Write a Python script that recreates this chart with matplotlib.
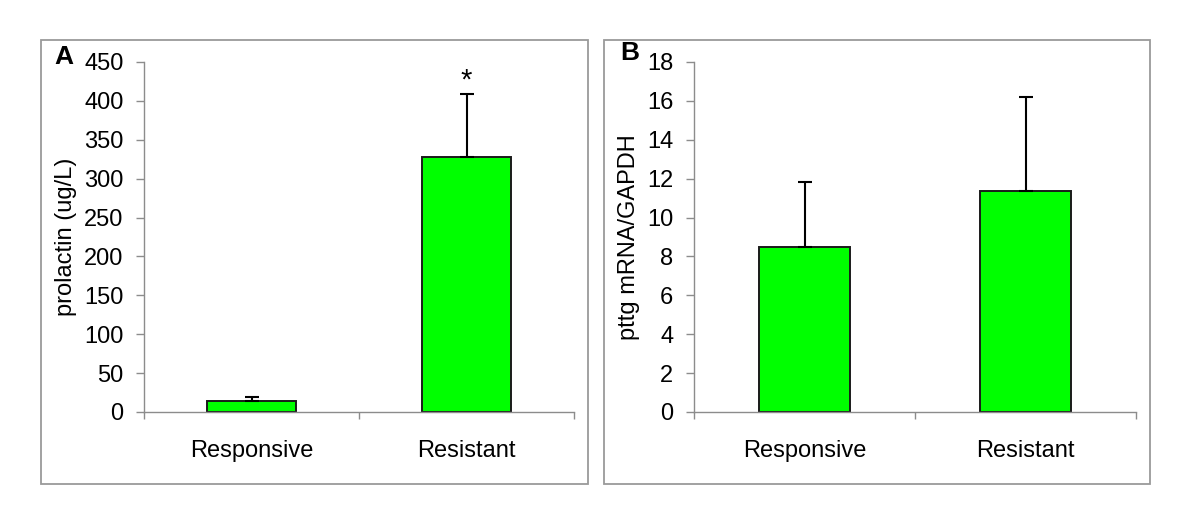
import matplotlib
matplotlib.use("Agg")
import matplotlib.pyplot as plt
from matplotlib.patches import Rectangle

plt.rcParams['font.family'] = ['Liberation Sans', 'DejaVu Sans']

categories = ["Responsive", "Resistant"]
prolactin = [14, 328]
prolactin_err = [5, 81]
pttg = [8.48, 11.37]
pttg_err = [3.35, 4.82]

W, H = 1200, 521
fig = plt.figure(figsize=(12, 5.21), dpi=100)

GRAY = '#8c8c8c'
GREEN = '#00ff00'


def px(x0, y0, x1, y1):
    return [x0 / W, 1 - y1 / H, (x1 - x0) / W, (y1 - y0) / H]


# panel frames
for (x0, y0, x1, y1) in [(41, 40, 588, 484), (604, 40, 1150, 484)]:
    fig.patches.append(Rectangle((x0 / W, 1 - y1 / H), (x1 - x0) / W, (y1 - y0) / H,
                                 transform=fig.transFigure, fill=False,
                                 edgecolor='#9a9a9a', linewidth=1.3))


def panel(rect, vals, errs, ymax, ystep, ylabel, letter, letter_xy, star=False):
    ax = fig.add_axes(rect)
    x = list(range(len(categories)))
    ax.bar(x, vals, width=0.41, color=GREEN, edgecolor='#1a1a1a', linewidth=1.4, zorder=2)
    ax.errorbar(x, vals, yerr=[[0] * len(errs), errs], fmt='none', ecolor='black',
                elinewidth=1.5, capsize=4.7, capthick=1.5, zorder=3)
    ax.set_xlim(-0.5, len(categories) - 0.5)
    ax.set_ylim(0, ymax)
    ax.set_yticks([i * ystep for i in range(int(round(ymax / ystep)) + 1)])
    ax.set_xticks([-0.5 + i for i in range(len(categories) + 1)])
    ax.set_xticklabels([])
    ax.set_xticks(x, minor=True)
    ax.set_xticklabels(categories, minor=True)
    ax.tick_params(axis='x', which='minor', length=0, pad=20, labelsize=17)
    ax.tick_params(axis='x', which='major', length=5, width=1, color=GRAY, direction='out')
    ax.tick_params(axis='y', length=5.8, width=1, color=GRAY, pad=9, labelsize=17)
    for s in ['top', 'right']:
        ax.spines[s].set_visible(False)
    for s in ['left', 'bottom']:
        ax.spines[s].set_color(GRAY)
        ax.spines[s].set_linewidth(1)
    ax.set_ylabel(ylabel, fontsize=17, labelpad=5)
    fig.text(letter_xy[0] / W, 1 - letter_xy[1] / H, letter, fontsize=19,
             fontweight='bold', ha='center', va='center')
    if star:
        ax.annotate('*', xy=(1, vals[1] + errs[1]), xytext=(0, 4),
                    textcoords='offset points', ha='center', va='baseline', fontsize=21)
    return ax


panel(px(144, 62, 574, 412), prolactin, prolactin_err, 450, 50,
      'prolactin (ug/L)', 'A', (64, 57), star=True)
panel(px(694, 62, 1136, 412), pttg, pttg_err, 18, 2,
      'pttg mRNA/GAPDH', 'B', (630, 53))

fig.savefig('out.png', dpi=100)
